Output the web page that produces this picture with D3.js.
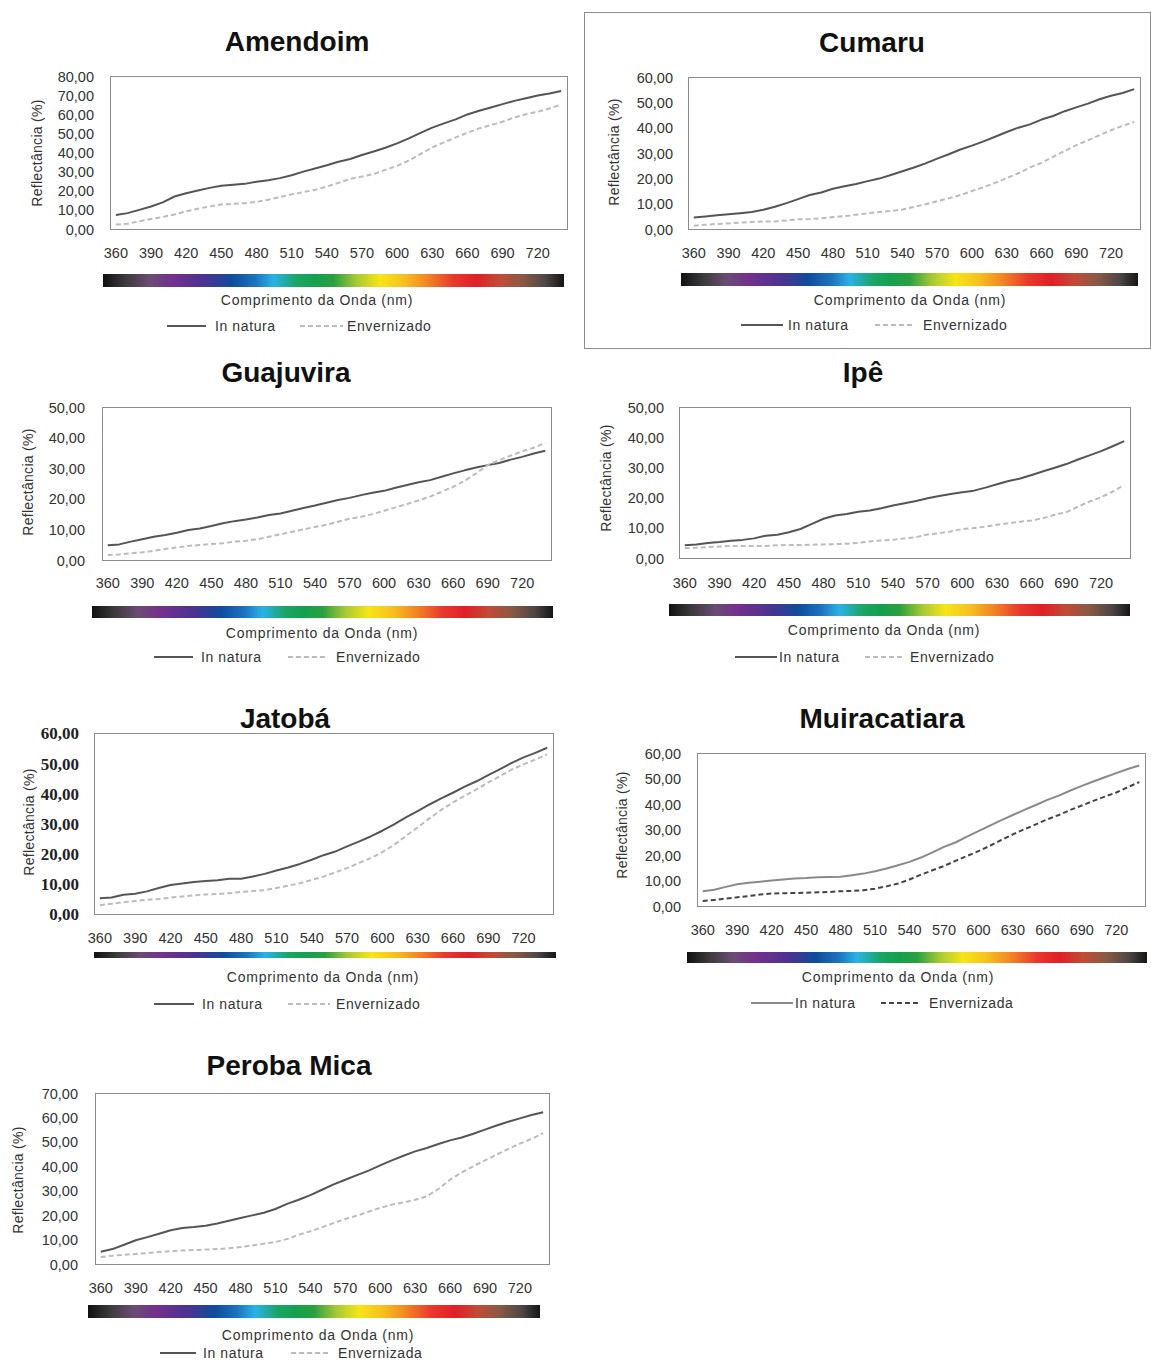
<!DOCTYPE html>
<html><head><meta charset="utf-8">
<script src="https://cdn.jsdelivr.net/npm/d3@7"></script>
<style>
html,body{margin:0;padding:0;background:#fff;}
svg{display:block;font-family:"Liberation Sans",Arial,sans-serif;}
</style></head>
<body>
<svg id="chart" width="1151" height="1360"></svg>
<script>
// ---------- DATA ----------
const wavelengths = [360,370,380,390,400,410,420,430,440,450,460,470,480,490,500,510,520,530,540,550,560,570,580,590,600,610,620,630,640,650,660,670,680,690,700,710,720,730,740];
const xTickLabels = [360,390,420,450,480,510,540,570,600,630,660,690,720];
const panelTitles = ["Amendoim","Cumaru","Guajuvira","Ipê","Jatobá","Muiracatiara","Peroba Mica"];
const yMaxima = [80,60,50,50,60,60,70];
const seriesNamesA = ["In natura","Envernizado"];
const seriesNamesB = ["In natura","Envernizada"];

const amendoimInNatura = [7.3,8.3,10,11.8,13.9,17,18.7,20.1,21.5,22.6,23.1,23.6,24.7,25.5,26.6,28.1,30,31.6,33.3,35.2,36.6,38.7,40.5,42.5,44.8,47.4,50.3,53,55.2,57.3,59.9,61.8,63.5,65.3,67,68.4,69.8,70.8,72.2];
const amendoimEnvernizado = [2.3,2.8,4,5.2,6.3,7.6,9.2,10.6,11.8,12.8,13.2,13.5,14.2,15.3,16.7,18.1,19.3,20.5,22.2,24.1,26.2,27.4,28.8,30.9,33,35.8,39.2,42.7,45.3,47.9,50.3,52.6,54.3,56.1,58.3,60,61.3,63,65.1];

const cumaruInNatura = [4.5,4.9,5.4,5.8,6.2,6.7,7.6,8.8,10.2,11.8,13.4,14.4,15.9,16.9,17.8,18.9,19.9,21.3,22.8,24.3,25.9,27.8,29.5,31.4,32.9,34.6,36.4,38.3,40,41.3,43.2,44.6,46.5,48,49.5,51.2,52.6,53.7,55.2];
const cumaruEnvernizado = [1.3,1.7,2,2.2,2.5,2.8,3,3,3.4,3.8,3.9,4.2,4.7,5.1,5.6,6.2,6.7,7.1,7.7,8.7,9.8,11,12.1,13.4,15,16.5,18.2,20.1,22,24.3,26.1,28.5,30.8,33.1,35,37,39,40.7,42.3];

const guajuviraInNatura = [4.8,5.1,6,6.8,7.6,8.2,8.9,9.8,10.3,11.1,12,12.7,13.2,13.9,14.7,15.2,16.1,17,17.8,18.7,19.6,20.3,21.2,22,22.6,23.6,24.5,25.4,26.1,27.2,28.3,29.3,30.2,31,31.7,32.8,33.7,34.8,35.7];
const guajuviraEnvernizado = [1.6,1.8,2.2,2.5,3,3.6,4.1,4.6,4.9,5.2,5.5,6,6.3,6.8,7.6,8.4,9.2,10,10.8,11.5,12.5,13.5,14.1,15,16.1,17.2,18.3,19.5,20.7,22.3,23.9,25.9,28.3,31,32.6,34.1,35.5,36.7,38.3];

const ipeInNatura = [4.2,4.5,5,5.3,5.7,6,6.5,7.4,7.7,8.5,9.6,11.3,13,14.1,14.6,15.3,15.7,16.5,17.4,18.1,18.9,19.8,20.5,21.2,21.8,22.3,23.3,24.4,25.5,26.3,27.5,28.7,29.9,31.1,32.6,34,35.4,37,38.7];
const ipeEnvernizado = [3.2,3.4,3.6,3.8,4,4,4,4,4.2,4.3,4.3,4.4,4.5,4.6,4.7,5,5.5,5.8,6,6.5,6.9,7.8,8.2,8.8,9.6,9.9,10.4,11,11.5,12,12.4,13.2,14.3,15.2,17,18.7,20.1,22,24.2];

const jatobaInNatura = [5.2,5.5,6.4,6.7,7.5,8.6,9.6,10.1,10.6,10.9,11.2,11.7,11.7,12.4,13.3,14.4,15.4,16.6,18,19.5,20.7,22.4,24,25.7,27.6,29.7,32,34.1,36.3,38.3,40.2,42.2,44,46,48,50.1,51.9,53.4,55.1];
const jatobaEnvernizado = [2.9,3.4,3.9,4.3,4.7,5,5.4,5.8,6.2,6.5,6.6,6.9,7.3,7.6,7.9,8.6,9.4,10.2,11.3,12.4,13.8,15.2,16.9,18.5,20.5,22.9,25.9,28.7,31.7,34.5,37,39.2,41.3,43.6,45.7,47.9,49.6,51.2,52.9];

const muiracatiaraInNatura = [5.8,6.4,7.5,8.5,9.1,9.5,10,10.4,10.8,11,11.3,11.4,11.5,12.1,12.7,13.6,14.7,16,17.3,19,21,23.2,24.9,27.2,29.4,31.5,33.7,35.7,37.7,39.6,41.6,43.3,45.3,47.1,48.8,50.5,52.1,53.7,55.1];
const muiracatiaraEnvernizada = [2,2.4,2.9,3.4,3.9,4.5,4.9,5,5.1,5.2,5.4,5.5,5.8,5.9,6.2,6.8,7.7,8.8,10.4,12.3,14,15.7,17.7,19.6,21.5,23.6,25.9,28.1,30.1,32,34,35.7,37.7,39.4,41.2,42.9,44.5,46.6,48.6];

const perobaInNatura = [5,6.1,7.9,9.7,11,12.4,13.8,14.7,15.1,15.7,16.6,17.7,18.8,19.9,21,22.5,24.6,26.3,28.2,30.4,32.6,34.5,36.4,38.2,40.4,42.4,44.3,46.1,47.5,49.1,50.6,51.8,53.3,55,56.7,58.2,59.6,61,62.1];
const perobaEnvernizada = [2.9,3.4,3.8,4.1,4.5,4.9,5.2,5.5,5.7,5.9,6.1,6.4,7,7.6,8.3,9,10.2,12,13.4,15,16.8,18.4,19.8,21.4,23,24.3,25.2,26.3,27.7,30.7,34.5,37.5,40,42.4,44.8,47.1,49.3,51.2,53.6];

const panelSeries = [
  [amendoimInNatura, amendoimEnvernizado],
  [cumaruInNatura, cumaruEnvernizado],
  [guajuviraInNatura, guajuviraEnvernizado],
  [ipeInNatura, ipeEnvernizado],
  [jatobaInNatura, jatobaEnvernizado],
  [muiracatiaraInNatura, muiracatiaraEnvernizada],
  [perobaInNatura, perobaEnvernizada]
];
const panelSeriesNames = [seriesNamesA,seriesNamesA,seriesNamesA,seriesNamesA,seriesNamesA,seriesNamesB,seriesNamesB];

// spectrum colour stops for the wavelength bar
const spectrumOffsets = [0,0.05,0.1,0.15,0.22,0.28,0.33,0.37,0.42,0.46,0.5,0.55,0.6,0.65,0.7,0.76,0.81,0.86,0.91,0.96,1];
const spectrumColors = ["#111111","#3e3a3e","#6a4c72","#74308e","#4b3391","#0f4c9c","#1c73c0","#2ab2e6","#1aa565","#15a04e","#2aa040","#a8c934","#f6e516","#f7c21d","#f28a23","#e8392d","#e01f27","#c24a36","#8a5a45","#4e4646","#151515"];

// ---------- LAYOUT ----------
const layouts = [
 {title:[297,41], box:[110,76,567,229], yLabRight:94, xLabY:253, bar:[103,274,564,287], xTitle:[317,300], leg:{y:326,s:[167,206],st:215,d:[300,343],dt:347}, yTitle:[37,153]},
 {title:[872,42], box:[688,77,1140,229], yLabRight:673, xLabY:253, bar:[681,273,1138,286], xTitle:[910,300], leg:{y:325,s:[741,783],st:788,d:[875,915],dt:923}, yTitle:[614,152], frame:[584,12,1150,348]},
 {title:[286,372], box:[102,407,551,560], yLabRight:85, xLabY:583, bar:[92,606,553,618], xTitle:[322,633], leg:{y:657,s:[154,193],st:201,d:[288,328],dt:336}, yTitle:[28,482]},
 {title:[863,372], box:[679,407,1130,558], yLabRight:664, xLabY:583, bar:[669,604,1130,616], xTitle:[884,630], leg:{y:657,s:[735,777],st:779,d:[865,905],dt:910}, yTitle:[606,478]},
 {title:[285,718], box:[94,733,553,914], yLabRight:79, xLabY:938, bar:[94,952,556,958], xTitle:[323,977], leg:{y:1004,s:[154,194],st:202,d:[288,330],dt:336}, yTitle:[29,822], serifTicks:true},
 {title:[882,718], box:[697,753,1145,906], yLabRight:681, xLabY:930, bar:[687,952,1147,963], xTitle:[898,977], leg:{y:1003,s:[751,793],st:795,d:[881,921],dt:929}, yTitle:[622,825]},
 {title:[289,1065], box:[95,1093,549,1264], yLabRight:78, xLabY:1288, bar:[88,1305,540,1318], xTitle:[318,1335], leg:{y:1353,s:[160,196],st:203,d:[291,330],dt:338}, yTitle:[18,1180]}
];
const styleDefault = [{stroke:"#555555",dash:null},{stroke:"#bcbcbc",dash:"5,3"}];
const styleMuira = [{stroke:"#8a8a8a",dash:null},{stroke:"#444444",dash:"5,3"}];

// ---------- DRAW ----------
const svg = d3.select("#chart");
const defs = svg.append("defs");
const grad = defs.append("linearGradient").attr("id","spectrum").attr("x1","0").attr("x2","1").attr("y1","0").attr("y2","0");
spectrumOffsets.forEach((o,i)=>grad.append("stop").attr("offset",o).attr("stop-color",spectrumColors[i]));

const fmt = v => d3.format(".2f")(v).replace(".",",");

panelTitles.forEach((title,i)=>{
  const L = layouts[i];
  const g = svg.append("g");
  const [bx0,by0,bx1,by1] = L.box;
  const styles = i===5 ? styleMuira : styleDefault;

  if (L.frame){
    g.append("rect").attr("x",L.frame[0]+0.5).attr("y",L.frame[1]+0.5)
      .attr("width",L.frame[2]-L.frame[0]).attr("height",L.frame[3]-L.frame[1])
      .attr("fill","none").attr("stroke","#8c8c8c").attr("stroke-width",1);
  }

  const x = d3.scaleBand().domain(wavelengths).range([bx0,bx1]).padding(0);
  const y = d3.scaleLinear().domain([0,yMaxima[i]]).range([by1,by0]);
  const cx = d => x(d)+x.bandwidth()/2;

  // plot frame
  g.append("rect").attr("x",bx0+0.5).attr("y",by0+0.5).attr("width",bx1-bx0).attr("height",by1-by0)
    .attr("fill","#fff").attr("stroke","#8c8c8c").attr("stroke-width",1);

  // title
  g.append("text").attr("x",L.title[0]).attr("y",L.title[1]).attr("text-anchor","middle")
    .attr("dominant-baseline","central").attr("font-size",28).attr("font-weight","bold")
    .attr("fill","#111").text(title);

  // y axis
  const yTicks = d3.range(0, yMaxima[i]+0.001, 10);
  const yAxis = d3.axisLeft(y).tickValues(yTicks).tickSize(0).tickPadding(bx0-L.yLabRight).tickFormat(fmt);
  const ya = g.append("g").attr("transform",`translate(${bx0},0)`).call(yAxis);
  ya.select(".domain").remove();
  ya.selectAll("text").attr("fill", L.serifTicks ? "#222" : "#333").attr("dy","0.35em")
    .style("font-family", L.serifTicks ? "'Liberation Serif','Times New Roman',serif" : "'Liberation Sans',Arial,sans-serif")
    .style("font-size", L.serifTicks ? "17px" : "14.5px")
    .style("font-weight", L.serifTicks ? "bold" : "normal");

  // x axis
  const xAxis = d3.axisBottom(x).tickValues(xTickLabels).tickSize(0).tickPadding(0);
  const xa = g.append("g").attr("transform",`translate(0,${L.xLabY})`).call(xAxis);
  xa.select(".domain").remove();
  xa.selectAll("text").attr("y",0).attr("dy","0.35em").attr("fill","#333")
    .style("font-size","14.5px").style("font-family","'Liberation Sans',Arial,sans-serif");

  // lines
  const line = d3.line().x((d,k)=>cx(wavelengths[k])).y(d=>y(d));
  panelSeries[i].forEach((vals,s)=>{
    g.append("path").datum(vals).attr("d",line).attr("fill","none")
      .attr("stroke",styles[s].stroke).attr("stroke-width",2)
      .attr("stroke-dasharray",styles[s].dash).attr("stroke-linejoin","round");
  });

  // spectrum bar
  g.append("rect").attr("x",L.bar[0]).attr("y",L.bar[1]).attr("width",L.bar[2]-L.bar[0]).attr("height",L.bar[3]-L.bar[1])
    .attr("fill","url(#spectrum)");

  // x title
  g.append("text").attr("x",L.xTitle[0]).attr("y",L.xTitle[1]).attr("text-anchor","middle")
    .attr("dominant-baseline","central").attr("font-size",14).attr("letter-spacing","0.75px")
    .attr("fill","#333").text("Comprimento da Onda (nm)");

  // y title
  g.append("text").attr("transform",`translate(${L.yTitle[0]},${L.yTitle[1]}) rotate(-90)`)
    .attr("text-anchor","middle").attr("dominant-baseline","central").attr("font-size",14)
    .attr("letter-spacing","0.3px").attr("fill","#333").text("Reflectância (%)");

  // legend
  const lg = L.leg;
  g.append("line").attr("x1",lg.s[0]).attr("x2",lg.s[1]).attr("y1",lg.y).attr("y2",lg.y)
    .attr("stroke",styles[0].stroke).attr("stroke-width",2);
  g.append("text").attr("x",lg.st).attr("y",lg.y).attr("dominant-baseline","central")
    .attr("font-size",14).attr("letter-spacing","0.6px").attr("fill","#333").text(panelSeriesNames[i][0]);
  g.append("line").attr("x1",lg.d[0]).attr("x2",lg.d[1]).attr("y1",lg.y).attr("y2",lg.y)
    .attr("stroke",styles[1].stroke).attr("stroke-width",2).attr("stroke-dasharray",styles[1].dash);
  g.append("text").attr("x",lg.dt).attr("y",lg.y).attr("dominant-baseline","central")
    .attr("font-size",14).attr("letter-spacing","0.6px").attr("fill","#333").text(panelSeriesNames[i][1]);
});
</script>
</body></html>
